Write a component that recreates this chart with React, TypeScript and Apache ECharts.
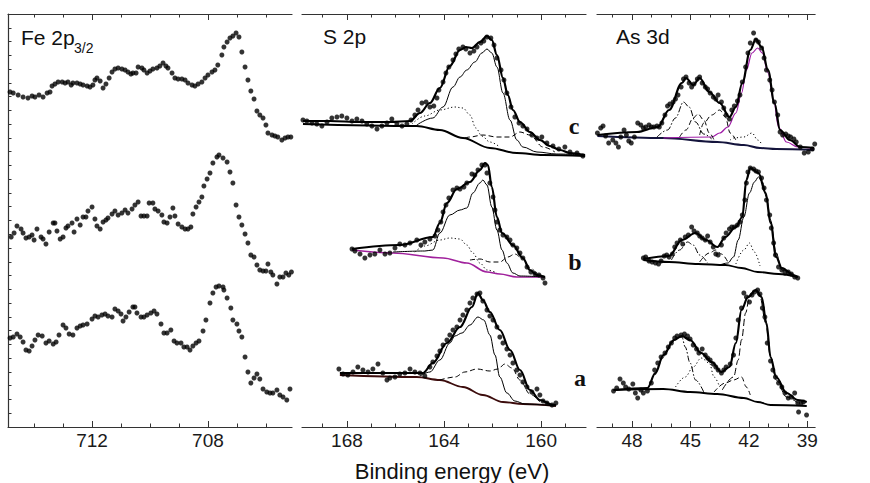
import React, { useEffect, useRef } from "react";
import * as echarts from "echarts";

// ---------- axis ticks / labels ----------
const FE_TICKS = [706, 707, 708, 709, 710, 711, 712, 713, 714];
const FE_LABELS = [708, 712];
const S_TICKS = [159, 160, 161, 162, 163, 164, 165, 166, 167, 168, 169];
const S_LABELS = [160, 164, 168];
const AS_TICKS = [39, 40, 41, 42, 43, 44, 45, 46, 47, 48, 49];
const AS_LABELS = [39, 42, 45, 48];

// ---------- Fe 2p3/2 spectra (binding energy eV, intensity a.u.) ----------
const feTop = [[714.83,335],[714.72,334],[714.55,332],[714.38,330],[714.21,329],[714.07,331],[713.97,330],[713.83,332],[713.69,330],[713.55,334],[713.45,335],[713.38,341],[713.28,343],[713.17,345],[713.03,345],[712.93,344],[712.83,345],[712.72,342],[712.66,344],[712.52,344],[712.41,343],[712.31,342],[712.17,341],[712.07,340],[711.97,342],[711.90,347],[711.83,349],[711.72,346],[711.62,339],[711.52,343],[711.41,349],[711.31,355],[711.21,358],[711.10,359],[710.97,358],[710.86,357],[710.76,355],[710.66,353],[710.59,354],[710.48,354],[710.41,360],[710.28,359],[710.21,357],[710.10,354],[710.00,356],[709.90,358],[709.76,359],[709.66,361],[709.55,364],[709.45,361],[709.38,359],[709.24,354],[709.14,349],[709.03,348],[708.90,348],[708.79,347],[708.69,344],[708.55,342],[708.45,341],[708.34,343],[708.21,345],[708.10,349],[708.00,352],[707.86,355],[707.76,357],[707.66,362],[707.52,372],[707.45,380],[707.34,385],[707.24,389],[707.14,391],[707.03,394],[706.93,390],[706.83,375],[706.72,360],[706.62,347],[706.52,336],[706.41,328],[706.31,316],[706.21,312],[706.10,309],[706.00,302],[705.93,294],[705.79,292],[705.69,291],[705.59,290],[705.45,287],[705.34,289],[705.24,290],[705.14,290]];
const feMid = [[714.79,190],[714.69,194],[714.59,201],[714.45,198],[714.38,194],[714.28,189],[714.17,190],[714.07,192],[714.00,187],[713.90,198],[713.76,190],[713.69,188],[713.59,183],[713.48,195],[713.34,204],[713.28,204],[713.21,196],[713.10,188],[713.00,190],[712.90,199],[712.83,201],[712.69,204],[712.62,195],[712.52,208],[712.41,202],[712.31,210],[712.21,210],[712.14,216],[712.00,220],[711.90,208],[711.83,201],[711.72,198],[711.62,205],[711.52,207],[711.45,209],[711.31,213],[711.21,216],[711.10,212],[710.97,214],[710.86,217],[710.76,214],[710.62,218],[710.52,222],[710.41,225],[710.31,211],[710.21,211],[710.10,211],[710.03,224],[709.90,224],[709.83,218],[709.72,216],[709.59,212],[709.52,205],[709.41,204],[709.31,210],[709.21,219],[709.14,211],[709.03,203],[708.90,200],[708.79,198],[708.69,198],[708.59,200],[708.52,213],[708.41,220],[708.31,225],[708.21,230],[708.14,241],[708.03,248],[707.93,254],[707.83,264],[707.69,270],[707.62,272],[707.48,269],[707.34,265],[707.24,255],[707.14,244],[707.03,222],[706.93,210],[706.83,202],[706.72,193],[706.62,184],[706.52,172],[706.41,170],[706.31,162],[706.21,157],[706.10,156],[706.00,156],[705.93,163],[705.83,155],[705.76,152],[705.62,143],[705.52,150],[705.41,150],[705.31,154],[705.21,152],[705.12,155]];
const feBot = [[714.83,89],[714.72,90],[714.59,93],[714.48,90],[714.38,85],[714.28,77],[714.17,76],[714.07,81],[713.97,87],[713.86,92],[713.72,91],[713.59,84],[713.48,86],[713.34,83],[713.24,85],[713.14,92],[713.00,102],[712.90,99],[712.79,93],[712.66,92],[712.52,99],[712.41,101],[712.31,102],[712.17,103],[712.00,108],[711.90,111],[711.79,110],[711.66,112],[711.55,113],[711.45,111],[711.31,110],[711.21,118],[711.10,116],[711.00,113],[710.93,106],[710.83,110],[710.72,115],[710.59,120],[710.52,120],[710.45,114],[710.31,110],[710.21,110],[710.10,112],[709.97,114],[709.86,116],[709.76,113],[709.62,103],[709.52,94],[709.41,94],[709.28,97],[709.17,86],[709.07,84],[708.93,84],[708.83,80],[708.72,80],[708.62,77],[708.52,81],[708.41,84],[708.31,86],[708.17,96],[708.07,107],[707.93,124],[707.83,134],[707.72,140],[707.62,141],[707.48,140],[707.45,137],[707.34,129],[707.21,119],[707.14,107],[707.00,103],[706.93,96],[706.83,90],[706.72,70],[706.62,55],[706.52,44],[706.41,49],[706.31,53],[706.21,48],[706.10,38],[705.97,35],[705.86,34],[705.76,34],[705.62,37],[705.52,32],[705.41,30],[705.28,27],[705.17,38]];

// ---------- S 2p ----------
const sC = [[169.81,307],[169.65,306],[169.44,304],[169.24,303],[169.03,301],[168.82,305],[168.62,309],[168.41,310],[168.21,311],[168.00,309],[167.79,306],[167.59,308],[167.38,306],[167.18,303],[166.97,301],[166.76,298],[166.56,301],[166.35,304],[166.15,308],[165.94,303],[165.73,301],[165.53,303],[165.36,307],[165.20,312],[165.07,317],[164.91,324],[164.74,325],[164.58,320],[164.42,321],[164.29,329],[164.21,337],[164.04,345],[163.92,354],[163.80,360],[163.63,367],[163.51,373],[163.39,378],[163.22,380],[163.10,378],[162.93,374],[162.77,376],[162.64,380],[162.48,384],[162.36,386],[162.23,390],[162.07,389],[161.94,382],[161.82,369],[161.65,357],[161.53,347],[161.41,334],[161.24,320],[161.08,310],[160.91,304],[160.75,301],[160.58,298],[160.38,292],[160.17,289],[159.97,290],[159.76,284],[159.51,281],[159.27,278],[159.02,280],[158.81,275],[158.52,274],[158.28,271]];
const sCEnv = [[169.81,306],[168.70,306],[167.46,305],[166.23,305],[165.40,306],[164.99,314],[164.58,324],[164.17,339],[163.76,361],[163.34,377],[163.10,380],[162.85,379],[162.52,385],[162.23,391],[162.03,387],[161.82,372],[161.57,349],[161.37,332],[161.16,317],[160.87,305],[160.46,295],[160.05,287],[159.64,281],[159.22,277],[158.81,274],[158.19,272]];
const sCBg = [[169.81,303],[165.12,301],[164.17,297],[163.22,289],[162.11,279],[161.00,274],[159.92,272],[158.19,271]];
const sCMain = [[165.12,302],[164.46,309],[164.04,320],[163.63,340],[163.34,350],[163.06,357],[162.73,365],[162.44,374],[162.23,378],[162.03,374],[161.82,360],[161.57,334],[161.28,307],[161.00,287],[160.75,280],[160.17,275],[159.35,273],[158.19,272]];
const sCDot = [[165.32,303],[164.79,311],[164.17,317],[163.55,320],[163.22,319],[162.93,312],[162.69,299],[162.44,291],[162.11,285],[161.70,280]];
const sCDash = [[163.14,289],[162.93,290],[162.40,292],[161.82,290],[161.28,290],[160.87,295],[160.46,292],[159.92,280],[159.43,275]];

const sB = [[167.79,178],[167.67,176],[167.46,173],[167.26,169],[167.05,172],[166.85,173],[166.64,177],[166.43,173],[166.23,174],[166.02,179],[165.82,183],[165.61,182],[165.40,184],[165.12,187],[164.95,182],[164.79,185],[164.58,188],[164.37,191],[164.25,197],[164.13,205],[164.04,215],[163.92,222],[163.80,229],[163.63,237],[163.47,239],[163.34,238],[163.18,240],[163.06,244],[162.85,253],[162.73,252],[162.60,257],[162.44,262],[162.31,262],[162.23,254],[162.11,244],[161.98,230],[161.90,217],[161.82,205],[161.70,197],[161.57,192],[161.41,190],[161.28,187],[161.16,182],[161.00,179],[160.87,174],[160.75,169],[160.58,160],[160.42,155],[160.25,153],[160.09,152],[159.92,149],[159.84,144]];
const sBEnv = [[167.79,178],[165.82,182],[164.46,190],[164.17,204],[163.88,224],[163.47,238],[162.93,245],[162.52,257],[162.31,264],[162.19,262],[162.03,240],[161.82,210],[161.61,194],[161.16,182],[160.75,169],[160.46,157],[160.17,152],[159.84,150]];
const sBBg = [[167.79,177],[166.10,174],[164.04,169],[163.06,164],[162.23,155],[161.70,153],[161.00,150],[159.84,150]];
const sBMain = [[166.10,175],[164.79,176],[164.46,177],[164.17,194],[163.76,212],[163.34,217],[163.06,219],[162.81,234],[162.52,244],[162.40,247],[162.23,242],[162.03,220],[161.82,197],[161.61,177],[161.41,164],[161.16,154],[160.87,151],[159.84,150]];
const sBDot = [[165.20,175],[164.79,181],[164.17,187],[163.76,189],[163.34,188],[163.06,182],[162.81,174],[162.52,164],[162.23,157],[161.82,154]];
const sBDash = [[162.93,167],[162.52,168],[162.11,165],[161.70,165],[161.37,170],[161.08,173],[160.79,169],[160.46,159],[160.13,152]];

const sA = [[168.33,58],[168.16,53],[167.96,52],[167.75,55],[167.55,60],[167.34,57],[167.13,55],[166.93,58],[166.72,63],[166.52,54],[166.35,47],[166.23,49],[166.02,50],[165.82,53],[165.61,54],[165.40,58],[165.20,55],[164.99,54],[164.79,51],[164.58,60],[164.46,65],[164.29,71],[164.17,76],[164.04,82],[163.88,87],[163.76,92],[163.63,97],[163.47,100],[163.34,107],[163.22,112],[163.06,117],[162.93,124],[162.81,129],[162.64,133],[162.52,134],[162.40,126],[162.23,117],[162.11,111],[161.98,107],[161.82,100],[161.70,90],[161.57,84],[161.41,78],[161.28,72],[161.16,64],[161.00,57],[160.87,52],[160.75,45],[160.58,40],[160.38,35],[160.17,38],[160.05,32],[159.92,26],[159.76,24],[159.55,22],[159.39,24]];
const sAEnv = [[168.29,54],[164.87,54],[164.46,64],[163.88,84],[163.34,100],[162.85,120],[162.60,134],[162.40,127],[162.11,115],[161.70,97],[161.28,77],[160.87,57],[160.46,37],[160.05,27],[159.51,22],[159.39,22]];
const sABg = [[168.29,52],[165.12,50],[164.17,47],[163.22,40],[162.40,32],[161.57,25],[160.75,23],[159.39,21]];
const sAMain = [[164.99,51],[164.58,55],[164.17,67],[163.76,84],[163.55,91],[163.26,94],[162.93,102],[162.60,110],[162.36,107],[162.11,92],[161.90,72],[161.70,50],[161.41,34],[161.08,26],[160.67,23],[159.39,21]];
const sADash = [[164.17,47],[163.55,50],[163.14,55],[162.64,58],[162.11,56],[161.78,58],[161.49,63],[161.20,59],[160.87,47],[160.46,33],[160.05,25]];

// ---------- As 3d ----------
const asC = [[49.78,294],[49.61,299],[49.49,301],[49.36,291],[49.20,284],[48.99,287],[48.83,284],[48.70,280],[48.58,290],[48.41,297],[48.29,292],[48.17,286],[48.04,284],[47.88,290],[47.71,304],[47.55,302],[47.42,299],[47.30,300],[47.13,302],[47.01,300],[46.88,300],[46.72,301],[46.60,300],[46.47,304],[46.31,312],[46.18,321],[46.06,323],[45.89,325],[45.77,328],[45.64,332],[45.48,340],[45.36,348],[45.23,350],[45.07,344],[44.94,340],[44.82,343],[44.65,348],[44.53,350],[44.40,344],[44.24,340],[44.12,338],[43.99,334],[43.83,330],[43.70,328],[43.58,332],[43.41,325],[43.29,319],[43.17,312],[43.00,308],[42.88,317],[42.75,321],[42.59,326],[42.46,332],[42.34,345],[42.17,360],[42.05,374],[41.93,384],[41.76,394],[41.64,387],[41.51,385],[41.35,379],[41.22,369],[41.10,357],[40.93,347],[40.81,337],[40.69,325],[40.52,312],[40.40,295],[40.27,292],[40.11,293],[39.98,291],[39.86,290],[39.69,288],[39.57,285],[39.36,280],[39.16,274],[38.95,275],[38.74,278],[38.62,283]];
const asCEnv = [[49.78,292],[47.75,295],[46.68,300],[46.10,317],[45.44,344],[45.23,349],[44.86,342],[44.53,349],[44.03,335],[43.50,324],[43.00,310],[42.67,320],[42.34,344],[41.93,377],[41.64,388],[41.35,380],[41.02,357],[40.69,324],[40.40,297],[39.90,287],[39.36,280],[38.66,279]];
const asCBg = [[49.78,291],[46.39,289],[43.62,285],[42.26,282],[41.43,279],[40.60,278],[38.66,277]];
const asCMain = [[46.39,289],[43.91,290],[43.50,294],[43.08,300],[42.67,314],[42.38,334],[42.13,357],[41.84,374],[41.55,379],[41.31,374],[41.02,354],[40.73,327],[40.48,300],[40.07,285],[39.49,280],[38.66,278]];
const asCDashDot = [[46.72,290],[46.18,297],[45.77,309],[45.36,325],[45.07,320],[44.74,305],[44.32,293],[43.91,288]];
const asCDash1 = [[45.56,290],[45.23,297],[44.86,309],[44.61,313],[44.32,307],[44.03,294],[43.79,287]];
const asCDash2 = [[44.53,292],[44.32,304],[43.91,312],[43.50,317],[43.21,310],[42.96,294],[42.67,287]];
const asCDot = [[42.96,287],[42.79,289],[42.26,290],[41.84,294],[41.55,287],[41.31,282]];

const asB = [[47.42,169],[47.30,170],[47.13,166],[46.97,165],[46.80,164],[46.64,163],[46.51,166],[46.35,171],[46.22,172],[46.10,170],[45.93,173],[45.81,180],[45.69,184],[45.52,187],[45.40,183],[45.27,190],[45.11,192],[44.94,200],[44.82,196],[44.65,194],[44.53,191],[44.40,189],[44.24,187],[44.12,191],[43.99,185],[43.83,180],[43.70,173],[43.58,172],[43.41,182],[43.29,189],[43.17,194],[43.00,198],[42.88,200],[42.75,200],[42.59,202],[42.46,205],[42.34,212],[42.21,227],[42.13,244],[42.05,255],[41.93,259],[41.76,258],[41.64,256],[41.51,255],[41.35,249],[41.22,239],[41.10,227],[40.93,212],[40.85,199],[40.73,184],[40.64,172],[40.48,160],[40.31,157],[40.15,154],[39.98,155],[39.82,153],[39.65,150],[39.49,149]];
const asBEnv = [[47.42,168],[46.10,171],[45.44,187],[44.74,194],[44.20,187],[43.62,180],[43.21,190],[42.67,200],[42.34,210],[42.13,247],[41.93,259],[41.51,254],[41.14,234],[40.89,204],[40.60,170],[40.31,159],[39.65,151],[39.49,150]];
const asBBg = [[47.42,167],[46.10,165],[44.61,163],[43.21,162],[42.38,159],[41.55,155],[40.48,153],[39.49,150]];
const asBMain = [[43.50,162],[43.08,164],[42.79,170],[42.55,187],[42.26,210],[41.97,234],[41.72,245],[41.51,250],[41.31,245],[41.10,230],[40.89,207],[40.60,174],[40.31,157],[39.49,150]];
const asBDashDot = [[45.98,167],[45.56,177],[45.15,185],[44.86,182],[44.53,172],[44.12,164]];
const asBDash = [[44.53,165],[44.03,174],[43.70,177],[43.41,173],[43.08,165]];
const asBDot = [[42.67,163],[42.26,177],[41.97,184],[41.72,175],[41.43,161]];

const asA = [[48.95,36],[48.79,39],[48.62,48],[48.45,44],[48.33,40],[48.17,38],[47.96,43],[47.83,34],[47.71,29],[47.55,37],[47.42,34],[47.21,36],[47.01,44],[46.84,57],[46.68,64],[46.51,70],[46.31,74],[46.14,80],[45.98,84],[45.81,89],[45.69,91],[45.48,92],[45.31,93],[45.15,91],[45.02,88],[44.86,82],[44.69,78],[44.57,74],[44.40,78],[44.24,72],[44.12,69],[43.99,67],[43.83,63],[43.70,60],[43.58,57],[43.41,54],[43.29,57],[43.17,60],[42.96,63],[42.79,72],[42.67,89],[42.55,107],[42.38,119],[42.26,134],[42.13,130],[41.97,125],[41.84,132],[41.72,135],[41.55,137],[41.43,133],[41.31,119],[41.18,110],[41.06,84],[40.89,66],[40.77,57],[40.64,50],[40.48,44],[40.31,40],[40.15,34],[39.98,29],[39.82,30],[39.65,34],[39.49,24],[39.45,15],[39.32,24],[39.20,25],[39.04,12]];
const asAEnv = [[48.95,37],[47.21,39],[46.80,54],[46.39,72],[45.85,87],[45.44,91],[45.02,87],[44.45,74],[43.91,65],[43.41,55],[43.00,60],[42.67,84],[42.38,117],[42.05,130],[41.64,137],[41.35,130],[41.10,104],[40.89,70],[40.60,50],[40.07,34],[39.49,27],[39.03,25]];
const asABg = [[48.95,37],[46.39,38],[45.02,35],[43.62,33],[42.26,29],[41.55,25],[40.89,22],[39.03,21]];
const asAMain = [[43.37,37],[42.79,50],[42.55,67],[42.38,87],[42.17,114],[41.97,130],[41.72,137],[41.43,130],[41.14,104],[40.89,70],[40.60,47],[40.07,30],[39.49,24]];
const asADashDot = [[46.80,52],[46.39,70],[45.98,84],[45.69,89],[45.44,90],[45.27,80],[45.02,64],[44.74,47],[44.32,35]];
const asADot = [[45.77,40],[45.27,50],[44.86,60],[44.45,69],[44.03,64],[43.79,50],[43.50,40]];
const asADash = [[43.79,35],[43.21,44],[42.79,47],[42.38,50],[42.13,40],[41.93,32]];

const FONT = '"Liberation Sans", Arial, Helvetica, sans-serif';
const SERIF = '"Liberation Serif", "Times New Roman", serif';
const AXC = "#333";
const DASH = [5, 3];
const DOT = [1.2, 2.4];
const DASHDOT = [6, 2, 1.5, 2];

function xAxes(g: number, min: number, max: number, ticks: number[], labels: number[]) {
  const base = { type: "value", gridIndex: g, min, max, inverse: true, splitLine: { show: false } };
  const tl = { color: AXC, width: 1 };
  return [
    { ...base, position: "bottom", axisLine: { show: true, lineStyle: { color: AXC, width: 1.2 } },
      axisTick: { show: true, inside: true, length: 6, customValues: labels, lineStyle: tl },
      axisLabel: { show: true, customValues: labels, margin: 4, fontSize: 19, color: "#1a1a1a", fontFamily: FONT } },
    { ...base, position: "bottom", axisLine: { show: false },
      axisTick: { show: true, inside: true, length: 3.5, customValues: ticks, lineStyle: tl }, axisLabel: { show: false } },
    { ...base, position: "top", axisLine: { show: true, lineStyle: { color: AXC, width: 1.2 } },
      axisTick: { show: true, inside: true, length: 6, customValues: labels, lineStyle: tl }, axisLabel: { show: false } },
    { ...base, position: "top", axisLine: { show: false },
      axisTick: { show: true, inside: true, length: 3.5, customValues: ticks, lineStyle: tl }, axisLabel: { show: false } },
  ];
}

function ln(g: number, data: number[][], width: number, color: string, type: any, z = 3) {
  return {
    type: "line", xAxisIndex: g * 4, yAxisIndex: g, data, showSymbol: false, symbol: "none",
    smooth: 0.35, smoothMonotone: "x", lineStyle: { width, color, type }, z, silent: true,
  };
}
function dots(g: number, data: number[][]) {
  return {
    type: "scatter", xAxisIndex: g * 4, yAxisIndex: g, data, symbol: "circle", symbolSize: 5,
    itemStyle: { color: "#000" }, z: 6, silent: true,
  };
}

export default function App() {
  const ref = useRef<HTMLDivElement>(null);
  useEffect(() => {
    if (!ref.current) return;
    const chart = echarts.init(ref.current, undefined, { renderer: "svg" });
    const yBase = { type: "value", min: 0, max: 413, interval: 413 / 30, splitLine: { show: false }, axisLabel: { show: false } };
    const option: any = {
      animation: false,
      backgroundColor: "#fff",
      grid: [
        { left: 8, top: 14, width: 284, height: 413 },
        { left: 302, top: 14, width: 284, height: 413 },
        { left: 597, top: 14, width: 271, height: 413 },
      ],
      xAxis: [
        ...xAxes(0, 705.1, 714.9, FE_TICKS, FE_LABELS),
        ...xAxes(1, 158.15, 169.85, S_TICKS, S_LABELS),
        ...xAxes(2, 38.6, 49.8, AS_TICKS, AS_LABELS),
      ],
      yAxis: [
        { ...yBase, gridIndex: 0, axisLine: { show: true, lineStyle: { color: AXC, width: 1.2 } },
          axisTick: { show: true, inside: true, length: 3.5, lineStyle: { color: AXC } } },
        { ...yBase, gridIndex: 1, axisLine: { show: false }, axisTick: { show: false } },
        { ...yBase, gridIndex: 2, axisLine: { show: false }, axisTick: { show: false } },
      ],
      series: [
        dots(0, feTop), dots(0, feMid), dots(0, feBot),
        // S 2p c
        ln(1, sCBg, 2, "#000", "solid"), ln(1, sCMain, 1, "#000", "solid"), ln(1, sCDot, 1, "#000", DOT),
        ln(1, sCDash, 1, "#000", DASH), ln(1, sCEnv, 2.2, "#000", "solid", 4), dots(1, sC),
        // S 2p b
        ln(1, sBBg, 1.6, "#a0209c", "solid"), ln(1, sBMain, 1, "#000", "solid"), ln(1, sBDot, 1, "#000", DOT),
        ln(1, sBDash, 1, "#000", DASH), ln(1, sBEnv, 2.2, "#000", "solid", 4), dots(1, sB),
        // S 2p a
        ln(1, sABg, 1.8, "#3c0c0c", "solid"), ln(1, sAMain, 1, "#000", "solid"),
        ln(1, sADash, 1, "#000", DASH), ln(1, sAEnv, 2.2, "#000", "solid", 4), dots(1, sA),
        // As 3d c
        ln(2, asCBg, 2, "#14143c", "solid"), ln(2, asCMain, 1.2, "#a01ca8", "solid"),
        ln(2, asCDashDot, 1, "#000", DASHDOT), ln(2, asCDash1, 1, "#000", DASH), ln(2, asCDash2, 1, "#000", DASH),
        ln(2, asCDot, 1, "#000", DOT), ln(2, asCEnv, 2.2, "#000", "solid", 4), dots(2, asC),
        // As 3d b
        ln(2, asBBg, 1.8, "#000", "solid"), ln(2, asBMain, 1, "#000", "solid"),
        ln(2, asBDashDot, 1, "#000", DASHDOT), ln(2, asBDash, 1, "#000", DASH), ln(2, asBDot, 1, "#000", DOT),
        ln(2, asBEnv, 2.2, "#000", "solid", 4), dots(2, asB),
        // As 3d a
        ln(2, asABg, 1.8, "#000", "solid"), ln(2, asAMain, 1, "#000", [7, 3]),
        ln(2, asADashDot, 1, "#000", DASHDOT), ln(2, asADot, 1, "#000", DOT), ln(2, asADash, 1, "#000", DASH),
        ln(2, asAEnv, 2.2, "#000", "solid", 4), dots(2, asA),
      ],
      graphic: [
        { type: "text", x: 21, y: 37, style: { text: "Fe 2p", font: `21px ${FONT}`, fill: "#111", textAlign: "left", textVerticalAlign: "middle" } },
        { type: "text", x: 74, y: 48, style: { text: "3/2", font: `14px ${FONT}`, fill: "#111", textAlign: "left", textVerticalAlign: "middle" } },
        { type: "text", x: 323, y: 36, style: { text: "S 2p", font: `21px ${FONT}`, fill: "#111", textAlign: "left", textVerticalAlign: "middle" } },
        { type: "text", x: 616, y: 36, style: { text: "As 3d", font: `21px ${FONT}`, fill: "#111", textAlign: "left", textVerticalAlign: "middle" } },
        { type: "text", x: 574, y: 126, style: { text: "c", font: `bold 24px ${SERIF}`, fill: "#111", textAlign: "center", textVerticalAlign: "middle" } },
        { type: "text", x: 575, y: 262, style: { text: "b", font: `bold 24px ${SERIF}`, fill: "#111", textAlign: "center", textVerticalAlign: "middle" } },
        { type: "text", x: 580, y: 378, style: { text: "a", font: `bold 24px ${SERIF}`, fill: "#111", textAlign: "center", textVerticalAlign: "middle" } },
        { type: "text", x: 452, y: 471, style: { text: "Binding energy (eV)", font: `22px ${FONT}`, fill: "#111", textAlign: "center", textVerticalAlign: "middle" } },
      ],
    };
    chart.setOption(option);
    return () => chart.dispose();
  }, []);
  return <div ref={ref} style={{ position: "fixed", left: 0, top: 0, width: 870, height: 483, background: "#fff" }} />;
}
